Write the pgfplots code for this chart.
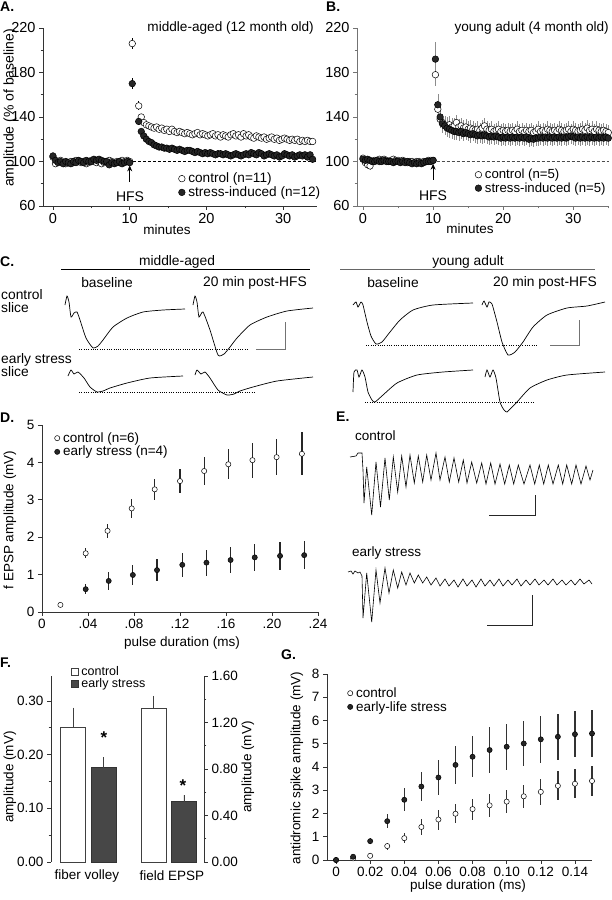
\documentclass[border=0pt]{standalone}
\usepackage{fontspec}
\setmainfont{Liberation Sans}
\usepackage{pgfplots}
\pgfplotsset{compat=1.18}
\usepackage{pgfplotstable}
\usetikzlibrary{arrows.meta}
\newcommand\fs[1]{\fontsize{#1}{#1}\selectfont}

\pgfplotstableread{
t cy ce sy se
0 104 1.5 105 1.5
0.33 98 1.5 101 1.5
0.67 100 1.5 99 1.5
1 101 1.5 100 1.5
1.33 99 1.5 98 1.5
1.67 98 1.5 100 1.5
2 99 1.5 99 1.5
2.33 100 1.5 98 1.5
2.67 99 1.5 100 1.5
3 101 1.5 99 1.5
3.33 100 1.5 101 1.5
3.67 99 1.5 100 1.5
4 100 1.5 99 1.5
4.33 98 1.5 101 1.5
4.67 99 1.5 100 1.5
5 101 1.5 100 1.5
5.33 100 1.5 102 1.5
5.67 99 1.5 101 1.5
6 100 1.5 102 1.5
6.33 98 1.5 101 1.5
6.67 99 1.5 100 1.5
7 100 1.5 100 1.5
7.33 101 1.5 97 1.5
7.67 100 1.5 99 1.5
8 99 1.5 98 1.5
8.33 100 1.5 99 1.5
8.67 99 1.5 100 1.5
9 101 1.5 98 1.5
9.33 100 1.5 99 1.5
9.67 101 1.5 100 1.5
10 100 1.5 99 1.5
10.33 206 4.8 170 5.2
11.17 150 4 136 3
11.5 140 3 127 2.5
11.83 135 2.5 123 2
12.17 133 2.5 120 2
12.5 132 2.5 118 2
12.83 131 2.5 117 2
13.17 130 2.5 115 2
13.5 131 2.5 114 2
13.83 129 2.5 113 2
14.17 130 2.5 113 2
14.5 128 2.5 112 2
14.83 129 2.5 112 2
15.17 127 2.5 111 2
15.5 129 2.5 112 2
15.83 127 2.5 111 2
16.17 126 2.5 110 2
16.5 127 2.5 111 2
16.83 126 2.5 110 2
17.17 125 2.5 109 2
17.5 126 2.5 110 2
17.83 125 2.5 110 2
18.17 124 2.5 109 2
18.5 125 2.5 108 2
18.83 126 2.5 109 2
19.17 124 2.5 108 2
19.5 125 2.5 107 2
19.83 124 2.5 108 2
20.17 123 2.5 107 2
20.5 124 2.5 108 2
20.83 125 2.5 107 2
21.17 123 2.5 106 2
21.5 124 2.5 107 2
21.83 122 2.5 107 2
22.17 124 2.5 106 2
22.5 123 2.5 107 2
22.83 122 2.5 106 2
23.17 124 2.5 105 2
23.5 125 2.5 106 2
23.83 123 2.5 107 2
24.17 124 2.5 106 2
24.5 122 2.5 105 2
24.83 125 2.5 106 2
25.17 123 2.5 107 2
25.5 124 2.5 106 2
25.83 122 2.5 108 2
26.17 121 2.5 107 2
26.5 123 2.5 106 2
26.83 122 2.5 108 2
27.17 121 2.5 107 2
27.5 122 2.5 105 2
27.83 120 2.5 106 2
28.17 121 2.5 107 2
28.5 122 2.5 106 2
28.83 120 2.5 105 2
29.17 121 2.5 106 2
29.5 119 2.5 104 2
29.83 120 2.5 105 2
30.17 121 2.5 107 2
30.5 120 2.5 106 2
30.83 119 2.5 105 2
31.17 120 2.5 106 2
31.5 119 2.5 104 2
31.83 120 2.5 105 2
32.17 118 2.5 106 2
32.5 119 2.5 105 2
32.83 118 2.5 106 2
33.17 119 2.5 104 2
33.5 118 2.5 106 2
33.83 118 2.5 102 2
}\tblA

\pgfplotstableread{
t cy ce sy se
0 103 2 102 2
0.33 99 2 101 2
0.67 97 3 102 2
1 96 4 101 2
1.33 100 2 100 2
1.67 101 2 100 2
2 101 2 101 2
2.33 102 2 100 2
2.67 101 2 100 2
3 102 2 101 2
3.33 101 2 100 2
3.67 100 2 100 2
4 101 2 100 2
4.33 102 2 99 2
4.67 101 2 100 2
5 101 2 100 2
5.33 100 2 99 2
5.67 101 2 100 2
6 100 2 99 2
6.33 99 2 100 2
6.67 100 2 99 2
7 100 2 98 2
7.33 99 2 99 2
7.67 100 2 98 2
8 100 2 99 2
8.33 99 2 98 2
8.67 100 2 99 2
9 100 2 100 2
9.33 101 2 100 2
9.67 101 2 100 2
10 101 2 101 2
10.33 178 10.5 192 15
10.67 147 10 151 10
11 138 8 140 9
11.33 135 8 134 8
11.67 133 8 132 8
12 132 8 130 8
12.33 133 8 129 8
12.67 131 8 128 8
13 132 7 127 8
13.33 135 7 127 8
13.67 131 7 126 8
14 132 7 127 7
14.33 130 7 125 7
14.67 131 7 126 7
15 129 7 125 7
15.33 130 7 124 7
15.67 129 7 125 7
16 128 7 124 7
16.33 129 7 123 7
16.67 128 7 124 7
17 130 7 123 7
17.33 132 7 124 7
17.67 129 7 123 7
18 128 7 122 7
18.33 129 7 123 7
18.67 127 7 122 7
19 128 7 123 7
19.33 129 7 122 7
19.67 127 7 121 7
20 128 7 122 7
20.33 127 7 121 7
20.67 128 7 122 7
21 127 7 121 7
21.33 128 7 122 7
21.67 127 7 121 7
22 129 7 122 7
22.33 127 7 121 7
22.67 128 7 122 7
23 126 7 121 7
23.33 128 7 122 7
23.67 127 7 120 7
24 128 7 121 7
24.33 126 7 120 7
24.67 127 7 121 7
25 129 7 121 7
25.33 127 7 122 7
25.67 128 7 121 7
26 127 7 122 7
26.33 129 7 121 7
26.67 128 7 122 7
27 127 7 121 7
27.33 128 7 122 7
27.67 127 7 121 7
28 129 7 122 7
28.33 128 7 121 7
28.67 127 7 122 7
29 128 7 121 7
29.33 129 7 122 7
29.67 127 7 123 7
30 129 7 122 7
30.33 128 7 121 7
30.67 127 7 122 7
31 128 7 121 7
31.33 129 7 122 7
31.67 128 7 121 7
32 130 7 122 7
32.33 128 7 121 7
32.67 129 7 122 7
33 127 7 121 7
33.33 129 7 122 7
33.67 128 7 121 7
34 127 7 122 7
34.33 128 7 121 7
34.67 127 7 122 7
35 126 7 121 7
}\tblB

\pgfplotstableread{
x y e
0.016 0.19 0.05
0.038 1.57 0.13
0.057 2.17 0.18
0.078 2.77 0.25
0.098 3.28 0.28
0.120 3.50 0.33
0.141 3.77 0.37
0.162 3.95 0.40
0.183 4.06 0.47
0.204 4.14 0.48
0.226 4.23 0.58
}\tblDc
\pgfplotstableread{
x y e
0.038 0.61 0.14
0.058 0.83 0.23
0.079 0.99 0.27
0.100 1.12 0.30
0.122 1.26 0.32
0.143 1.32 0.35
0.164 1.39 0.36
0.185 1.46 0.37
0.207 1.50 0.38
0.228 1.52 0.38
}\tblDs

\pgfplotstableread{
x cy ce sy se
0.00 0.00 0.02 0.00 0.02
0.01 0.07 0.03 0.14 0.05
0.02 0.18 0.05 0.81 0.12
0.03 0.60 0.15 1.67 0.30
0.04 0.94 0.20 2.59 0.50
0.05 1.42 0.35 3.16 0.63
0.06 1.74 0.43 3.55 0.75
0.07 1.99 0.42 4.09 0.82
0.08 2.19 0.45 4.44 0.88
0.09 2.35 0.48 4.73 0.97
0.10 2.51 0.48 4.87 1.00
0.11 2.74 0.50 5.01 0.98
0.12 2.93 0.55 5.19 1.00
0.13 3.19 0.62 5.30 1.00
0.14 3.28 0.63 5.41 1.00
0.15 3.40 0.65 5.44 1.02
}\tblG

\pgfplotsset{
 panel/.style={scale only axis, clip=false, anchor=south west,
   axis x line*=bottom, axis y line*=left,
   axis line style={black!80, line width=0.6pt},
   tick style={black!80, line width=0.6pt},
   tick align=outside, major tick length=4pt, minor tick length=2.5pt,
   /pgf/number format/assume math mode=true,
   tick label style={font=\fs{13.5}},
   legend cell align=left,
   legend style={draw=none, fill=none, font=\fs{13.5}, inner sep=0pt, row sep=0pt,
     nodes={inner sep=1.2pt},
     /tikz/every odd column/.append style={column sep=2pt}},
   legend image code/.code={\draw[##1] plot coordinates {(0pt,0pt)};},
 },
 ctrl/.style={only marks, mark=*, mark options={fill=white, draw=black, line width=0.5pt}},
 strs/.style={only marks, mark=*, mark options={fill=black!85, draw=black, line width=0.5pt}},
}

\begin{document}
\begin{tikzpicture}
\useasboundingbox (0pt,0pt) rectangle (611pt,900pt);

% ---------- overlay: texts and traces (pixel coordinates) ----------
\begin{axis}[scale only axis, hide axis, clip=false, at={(0pt,0pt)}, anchor=south west,
  width=611pt, height=900pt, xmin=0, xmax=611, ymin=0, ymax=900, y dir=reverse]
% panel letters
\node[anchor=west, inner sep=0pt, font=\fs{14}\bfseries] at (axis cs:0,7) {A.};
\node[anchor=west, inner sep=0pt, font=\fs{14}\bfseries] at (axis cs:326,7) {B.};
\node[anchor=west, inner sep=0pt, font=\fs{14}\bfseries] at (axis cs:0,262) {C.};
\node[anchor=west, inner sep=0pt, font=\fs{14}\bfseries] at (axis cs:0,418) {D.};
\node[anchor=west, inner sep=0pt, font=\fs{14}\bfseries] at (axis cs:336,417) {E.};
\node[anchor=west, inner sep=0pt, font=\fs{14}\bfseries] at (axis cs:0,663) {F.};
\node[anchor=west, inner sep=0pt, font=\fs{14}\bfseries] at (axis cs:281,655) {G.};
% A / B texts
\node[anchor=east, inner sep=0pt, font=\fs{13.6}] at (axis cs:314,28) {middle-aged (12 month old)};
\node[anchor=east, inner sep=0pt, font=\fs{13.6}] at (axis cs:609,28) {young adult (4 month old)};
\node[inner sep=0pt, font=\fs{14}] at (axis cs:130,197) {HFS};
\node[inner sep=0pt, font=\fs{14}] at (axis cs:433,196) {HFS};
\node[inner sep=0pt, font=\fs{13.5}] at (axis cs:167,230) {minutes};
\node[inner sep=0pt, font=\fs{13.5}] at (axis cs:470,229) {minutes};
\node[inner sep=0pt, font=\fs{14}, rotate=90] at (axis cs:10,108) {amplitude (\% of baseline)};
% C texts
\node[inner sep=0pt, font=\fs{13.8}] at (axis cs:177,262) {middle-aged};
\node[inner sep=0pt, font=\fs{13.8}] at (axis cs:468,262) {young adult};
\draw[black, line width=0.8pt] (axis cs:61,269) -- (axis cs:310,269);
\draw[black!60, line width=0.8pt] (axis cs:340,269) -- (axis cs:595,269);
\node[inner sep=0pt, font=\fs{13.8}] at (axis cs:107,283) {baseline};
\node[inner sep=0pt, font=\fs{13.8}] at (axis cs:255,283) {20 min post-HFS};
\node[inner sep=0pt, font=\fs{13.8}] at (axis cs:393,283) {baseline};
\node[inner sep=0pt, font=\fs{13.8}] at (axis cs:545,283) {20 min post-HFS};
\node[anchor=west, inner sep=0pt, font=\fs{13.8}] at (axis cs:1,295) {control};
\node[anchor=west, inner sep=0pt, font=\fs{13.8}] at (axis cs:1,308) {slice};
\node[anchor=west, inner sep=0pt, font=\fs{13.8}] at (axis cs:1,360) {early stress};
\node[anchor=west, inner sep=0pt, font=\fs{13.8}] at (axis cs:1,372) {slice};
% C traces
\addplot[black, line width=0.7pt, smooth, tension=0.35] coordinates {(65,305) (67,296) (69,302) (71,317) (74,313) (77,312) (80,320) (86,338) (93,348) (98,346) (103,340) (113,327) (127,318) (143,312) (163,310) (185,309)};
\addplot[black, line width=0.7pt, smooth, tension=0.35] coordinates {(193,305) (195,296) (197,302) (199,317) (203,312) (210,330) (218,355) (224,354) (230,347) (237,338) (250,325) (267,317) (287,311) (313,308)};
\addplot[black, line width=0.7pt, smooth, tension=0.35] coordinates {(68,376) (71,370) (74,374) (78,372) (84,378) (90,387) (97,392) (103,391) (110,388) (127,383) (150,378) (183,376)};
\addplot[black, line width=0.7pt, smooth, tension=0.35] coordinates {(195,375) (197,370) (201,374) (205,372) (210,378) (218,390) (227,395) (234,394) (240,391) (253,387) (277,381) (313,377)};
\addplot[black, line width=0.7pt, smooth, tension=0.35] coordinates {(353,305) (356,302) (358,307) (361,302) (363,305) (367,322) (371,336) (376,344) (382,342) (390,332) (400,320) (413,310) (433,305) (473,303)};
\addplot[black, line width=0.7pt, smooth, tension=0.35] coordinates {(482,305) (484,301) (487,307) (489,302) (492,304) (497,322) (502,342) (508,355) (515,352) (523,342) (533,327) (547,315) (567,308) (587,306) (605,302)};
\addplot[black, line width=0.7pt, smooth, tension=0.35] coordinates {(353,392) (354,372) (357,370) (359,377) (362,370) (365,377) (368,392) (372,400) (375,402) (383,395) (397,383) (417,375) (443,372) (473,370)};
\addplot[black, line width=0.7pt, smooth, tension=0.35] coordinates {(485,377) (487,370) (490,377) (493,370) (496,378) (500,402) (504,410) (507,412) (511,408) (517,402) (530,388) (547,380) (567,375) (605,372)};
% dotted reference lines
\addplot[black, line width=0.9pt, dash pattern=on 1pt off 1.3pt] coordinates {(79,349) (248,349)};
\addplot[black, line width=0.9pt, dash pattern=on 1pt off 1.3pt] coordinates {(79,392) (255,392)};
\addplot[black, line width=0.9pt, dash pattern=on 1pt off 1.3pt] coordinates {(366,345) (537,345)};
\addplot[black, line width=0.9pt, dash pattern=on 1pt off 1.3pt] coordinates {(365,402) (533,402)};
% scale bars
\addplot[black!55, line width=0.7pt] coordinates {(256,349) (285,349) (285,322)};
\addplot[black!55, line width=0.7pt] coordinates {(550,345) (579,345) (579,320)};
% D labels
\node[inner sep=0pt, font=\fs{13.5}, rotate=90] at (axis cs:10,520) {f EPSP amplitude (mV)};
\node[inner sep=0pt, font=\fs{13.5}] at (axis cs:182,643) {pulse duration (ms)};
% E
\node[anchor=west, inner sep=0pt, font=\fs{13.5}] at (axis cs:355,436) {control};
\node[anchor=west, inner sep=0pt, font=\fs{13.5}] at (axis cs:352,553) {early stress};
\addplot[black, line width=0.6pt] coordinates {(350,457) (356,456) (358,453) (362,453) (363,470) (364,503) (366.7,467) (371.7,515) (376,462) (380.5,507) (385,458) (389.3,500) (393.3,457) (397.7,492) (401.7,456) (406,487) (410,455) (414.3,483) (418.3,456) (422.7,482) (426.7,455) (431,480) (436,453) (440,480) (445,457) (449.3,482) (454,458) (458.7,482) (463.3,460) (467,483) (471.7,462) (476.7,483) (481.7,463) (486,484) (490.7,463) (495,484) (500,464) (504.7,484) (509.3,465) (513.7,484) (518.3,465) (524,484) (530,465) (534.7,484) (539.3,465) (543.7,484) (548.3,465) (553,484) (558.3,465) (562.7,484) (566.7,465) (571.7,484) (576,465) (581,484) (586,466) (590,480) (593,470)};
\addplot[black, line width=0.6pt] coordinates {(348,572) (351,571) (353,574) (355,571) (358,573) (360,572) (362,576) (363,618) (366.7,573) (371.7,622) (376,570) (380,603) (385,568) (389,593) (393.3,570) (397.7,588) (401.7,572) (406,585) (410,573) (414.3,583) (418.3,575) (422.7,583) (426.7,577) (431,585) (436,578) (440,586) (445,579) (449,586) (454,580) (458,587) (463,579) (467,586) (472,580) (476,587) (481,579) (485,586) (490,580) (494,586) (499,579) (503,586) (508,580) (512,585) (517,579) (521,586) (526,580) (530,585) (535,579) (539,585) (544,580) (548,585) (553,579) (557,585) (562,580) (566,585) (571,580) (575,585) (580,579) (584,584) (589,580) (592,584)};
\addplot[black!85, line width=0.7pt] coordinates {(489,515) (535,515) (535,495)};
\addplot[black!85, line width=0.7pt] coordinates {(487,625) (532,625) (532,595)};
% F labels
\node[inner sep=0pt, font=\fs{13.5}] at (axis cs:87,876) {fiber volley};
\node[inner sep=0pt, font=\fs{13.5}] at (axis cs:172,876) {field EPSP};
\node[inner sep=0pt, font=\fs{13.5}, rotate=90] at (axis cs:10,777) {amplitude (mV)};
\node[inner sep=0pt, font=\fs{13.5}, rotate=90] at (axis cs:248,767) {amplitude (mV)};
\node[inner sep=0pt, font=\fs{17}\bfseries] at (axis cs:104,738) {*};
\node[inner sep=0pt, font=\fs{17}\bfseries] at (axis cs:183,786) {*};
% G labels
\node[inner sep=0pt, font=\fs{13.5}, rotate=90] at (axis cs:297,768) {antidromic spike amplitude (mV)};
\node[inner sep=0pt, font=\fs{13.5}] at (axis cs:468,886) {pulse duration (ms)};
\end{axis}

% ---------- A ----------
\begin{axis}[panel, at={(43pt,694pt)}, width=274pt, height=178pt,
  xmin=-1.3, xmax=34.4, ymin=60, ymax=220,
  xtick={0,10,20,30}, minor xtick={5,15,25},
  ytick={60,100,140,180,220}, minor ytick={80,120,160,200},
  tick label style={font=\fs{14.5}},
  legend style={at={(0.494,0.115)}, anchor=west, font=\fs{13.6}}]
\addplot[black, line width=0.6pt, dash pattern=on 3pt off 2pt, forget plot] coordinates {(10.4,100) (34.4,100)};
\addplot[ctrl, mark size=3.3pt, error bars/.cd, y dir=both, y explicit, error mark=none,
  error bar style={black, line width=0.6pt}] table[x=t, y=cy, y error=ce]{\tblA};
\addlegendentry{control (n=11)}
\addplot[strs, mark size=3.3pt, error bars/.cd, y dir=both, y explicit, error mark=none,
  error bar style={black, line width=0.6pt}] table[x=t, y=sy, y error=se]{\tblA};
\addlegendentry{stress-induced (n=12)}
\draw[-{Stealth[length=6pt,width=5pt]}, line width=0.8pt] (axis cs:10,81.4) -- (axis cs:10,96.5);
\end{axis}

% ---------- B ----------
\begin{axis}[panel, at={(357pt,694pt)}, width=252pt, height=178pt,
  axis line style={black!55}, tick style={black!55},
  xmin=-0.86, xmax=35.1, ymin=60, ymax=220,
  xtick={0,10,20,30}, minor xtick={5,15,25,35},
  ytick={60,100,140,180,220}, minor ytick={80,120,160,200},
  tick label style={font=\fs{14.5}},
  legend style={at={(0.468,0.138)}, anchor=west, font=\fs{13.2}}]
\addplot[black!70, line width=0.6pt, dash pattern=on 3pt off 2pt, forget plot] coordinates {(10.5,100) (35.1,100)};
\addplot[ctrl, mark size=3.3pt, error bars/.cd, y dir=both, y explicit, error mark=none,
  error bar style={black!45, line width=0.6pt}] table[x=t, y=cy, y error=ce]{\tblB};
\addlegendentry{control (n=5)}
\addplot[strs, mark size=3.3pt, error bars/.cd, y dir=both, y explicit, error mark=none,
  error bar style={black!45, line width=0.6pt}] table[x=t, y=sy, y error=se]{\tblB};
\addlegendentry{stress-induced (n=5)}
\draw[-{Stealth[length=6pt,width=5pt]}, line width=0.8pt] (axis cs:10,83.8) -- (axis cs:10,98);
\end{axis}

% ---------- D ----------
\begin{axis}[panel, at={(42pt,288pt)}, width=276pt, height=187pt,
  xmin=0, xmax=0.24, ymin=0, ymax=5,
  xtick={0,0.04,0.08,0.12,0.16,0.2,0.24}, xticklabels={0,.04,.08,.12,.16,.20,.24},
  ytick={0,1,2,3,4,5},
  legend style={at={(0.045,0.893)}, anchor=west}]
\addplot[ctrl, mark size=2.6pt, error bars/.cd, y dir=both, y explicit, error mark=none,
  error bar style={black!85, line width=1.2pt}] table[x=x, y=y, y error=e]{\tblDc};
\addlegendentry{control (n=6)}
\addplot[strs, mark size=2.6pt, error bars/.cd, y dir=both, y explicit, error mark=none,
  error bar style={black!85, line width=1.2pt}] table[x=x, y=y, y error=e]{\tblDs};
\addlegendentry{early stress (n=4)}
\end{axis}

% ---------- F (left axis: fiber volley) ----------
\begin{axis}[panel, at={(51pt,38pt)}, width=153pt, height=186pt,
  axis x line=none, axis y line*=left,
  xmin=0.543, xmax=2.432, ymin=0, ymax=0.3465,
  ytick={0,0.1,0.2,0.3}, yticklabels={0.00,0.10,0.20,0.30}, minor ytick={0.05,0.15,0.25},
  bar width=0.31,
  legend style={at={(0.127,0.99)}, anchor=west, row sep=-1.5pt, font=\fs{12.5}},
  legend image code/.code={\draw[#1] (0pt,-3.5pt) rectangle (7pt,3.5pt);}]
\addplot[ybar, bar shift=0pt, fill=white, draw=black!75, line width=0.6pt,
  error bars/.cd, y dir=plus, y explicit, error mark=none, error bar style={black!75, line width=0.7pt}]
  coordinates {(0.815,0.250) +- (0,0.0375)};
\addlegendentry{control}
\addplot[ybar, bar shift=0pt, fill=black!72, draw=black!80, line width=0.6pt,
  error bars/.cd, y dir=plus, y explicit, error mark=none, error bar style={black!75, line width=0.7pt}]
  coordinates {(1.191,0.176) +- (0,0.019)};
\addlegendentry{early stress}
\end{axis}

% ---------- F (right axis: field EPSP) ----------
\begin{axis}[panel, at={(51pt,38pt)}, width=153pt, height=186pt,
  axis x line=none, axis y line*=right,
  xmin=0.543, xmax=2.432, ymin=0, ymax=1.6,
  ytick={0,0.4,0.8,1.2,1.6}, yticklabels={0.00,0.40,0.80,1.20,1.60}, minor ytick={0.2,0.6,1.0,1.4},
  bar width=0.31]
\addplot[ybar, bar shift=0pt, fill=white, draw=black!75, line width=0.6pt,
  error bars/.cd, y dir=plus, y explicit, error mark=none, error bar style={black!75, line width=0.7pt}]
  coordinates {(1.808,1.322) +- (0,0.106)};
\addplot[ybar, bar shift=0pt, fill=black!72, draw=black!80, line width=0.6pt,
  error bars/.cd, y dir=plus, y explicit, error mark=none, error bar style={black!75, line width=0.7pt}]
  coordinates {(2.185,0.519) +- (0,0.057)};
\end{axis}

% ---------- G ----------
\begin{axis}[panel, at={(327pt,40pt)}, width=265pt, height=186pt,
  xmin=-0.0053, xmax=0.15, ymin=0, ymax=8,
  xtick={0,0.02,0.04,0.06,0.08,0.1,0.12,0.14},
  xticklabels={0,0.02,0.04,0.06,0.08,0.10,0.12,0.14},
  ytick={0,1,2,3,4,5,6,7,8},
  legend style={at={(0.077,0.86)}, anchor=west}]
\addplot[ctrl, mark size=2.6pt, error bars/.cd, y dir=both, y explicit, error mark=none,
  error bar style={black!80, line width=1.3pt}] table[x=x, y=cy, y error=ce]{\tblG};
\addlegendentry{control}
\addplot[strs, mark size=2.6pt, error bars/.cd, y dir=both, y explicit, error mark=none,
  error bar style={black!80, line width=1.3pt}] table[x=x, y=sy, y error=se]{\tblG};
\addlegendentry{early-life stress}
\end{axis}
\end{tikzpicture}
\end{document}
